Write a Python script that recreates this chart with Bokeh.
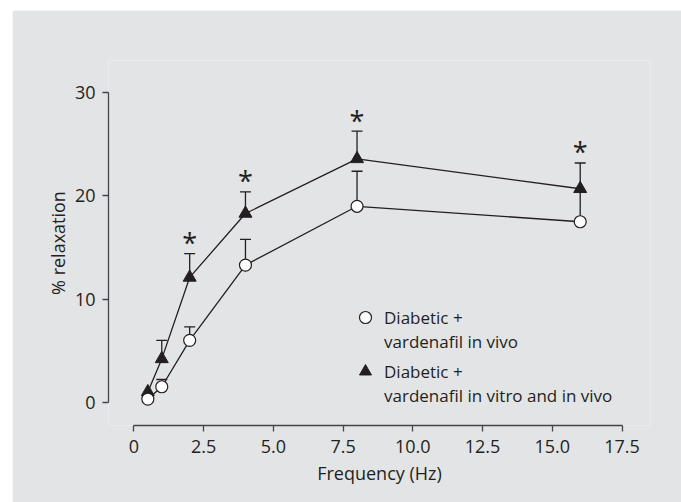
from bokeh.plotting import figure
from bokeh.models import (ColumnDataSource, Whisker, TeeHead, FixedTicker, Legend,
                          LegendItem, Range1d)
from bokeh.core.properties import value
from bokeh.embed import file_html
from bokeh.resources import INLINE

# ---- data ----
freq = [0.5, 1, 2, 4, 8, 16]
invivo_mean = [0.3, 1.5, 6.0, 13.3, 19.0, 17.5]
invivo_upper = [None, 2.2, 7.3, 15.8, 22.4, 20.5]
both_mean = [1.0, 4.2, 12.1, 18.3, 23.6, 20.7]
both_upper = [None, 6.0, 14.4, 20.4, 26.3, 23.2]
significant = [False, False, True, True, True, True]

x_ticks = [0, 2.5, 5, 7.5, 10, 12.5, 15, 17.5]
x_tick_labels = ["0", "2.5", "5.0", "7.5", "10.0", "12.5", "15.0", "17.5"]
y_ticks = [0, 10, 20, 30]

group_label = "Diabetic +"
label_invivo = "vardenafil in vivo"
label_both = "vardenafil in vitro and in vivo"

# ---- styling ----
BG = "#e3e4e6"
INK = "#231f20"
AXIS = "#444444"
FONT = "Open Sans"
FS = "18px"
LEG_FS = "17px"

p = figure(width=669, height=492, output_backend="svg", toolbar_location=None,
           x_range=Range1d(-0.91, 18.52), y_range=Range1d(-2.26, 33.14),
           min_border_left=96, min_border_right=31, min_border_top=50,
           min_border_bottom=77)
p.margin = (10, 0, 0, 12)
p.background_fill_color = BG
p.border_fill_color = BG
p.outline_line_color = None
p.grid.visible = False

for ax in (p.xaxis[0], p.yaxis[0]):
    ax.axis_line_color = AXIS
    ax.axis_line_width = 1.3
    ax.major_tick_line_color = AXIS
    ax.major_tick_line_width = 1.3
    ax.major_tick_in = 0
    ax.major_tick_out = 6
    ax.minor_tick_line_color = None
    ax.major_label_text_font = FONT
    ax.major_label_text_font_size = FS
    ax.major_label_text_color = INK
    ax.axis_label_text_font = FONT
    ax.axis_label_text_font_size = FS
    ax.axis_label_text_font_style = "normal"
    ax.axis_label_text_color = INK

p.xaxis[0].bounds = (0, 17.5)
p.xaxis[0].ticker = FixedTicker(ticks=x_ticks)
p.xaxis[0].major_label_overrides = {t: l for t, l in zip(x_ticks, x_tick_labels)}
p.xaxis[0].major_label_standoff = 8
p.xaxis[0].axis_label = "Frequency (Hz)"
p.xaxis[0].axis_label_standoff = 5

p.yaxis[0].bounds = (0, 30)
p.yaxis[0].ticker = FixedTicker(ticks=y_ticks)
p.yaxis[0].major_label_standoff = 7
p.yaxis[0].axis_label = "% relaxation"
p.yaxis[0].axis_label_standoff = 2

# ---- error bars (upper only) ----
def whisker_source(means, uppers):
    xs, lo, hi = [], [], []
    for f, m, u in zip(freq, means, uppers):
        if u is not None:
            xs.append(f); lo.append(m); hi.append(u)
    return ColumnDataSource(dict(x=xs, lower=lo, upper=hi))

for means, uppers in ((both_mean, both_upper), (invivo_mean, invivo_upper)):
    w = Whisker(base="x", lower="lower", upper="upper",
                source=whisker_source(means, uppers),
                line_color=INK, line_width=1.3, lower_head=None,
                upper_head=TeeHead(size=11, line_color=INK, line_width=1.3),
                level="underlay")
    p.add_layout(w)

# ---- series ----
src_both = ColumnDataSource(dict(x=freq, y=both_mean))
src_vivo = ColumnDataSource(dict(x=freq, y=invivo_mean))

p.line("x", "y", source=src_both, line_color=INK, line_width=1.3)
r_both = p.scatter("x", "y", source=src_both, marker="triangle", size=13,
                   fill_color=INK, line_color=INK)
p.line("x", "y", source=src_vivo, line_color=INK, line_width=1.3)
r_vivo = p.scatter("x", "y", source=src_vivo, marker="circle", size=12,
                   fill_color="white", line_color=INK, line_width=1.2)

# invisible renderer used for the second legend line of each entry
r_blank = p.scatter(x=[], y=[], size=0, fill_alpha=0, line_alpha=0)

# ---- significance asterisks ----
sx = [f for f, s in zip(freq, significant) if s]
sy = [u for u, s in zip(both_upper, significant) if s]
p.text(x=sx, y=sy, text=["*"] * len(sx), text_font=value(FONT),
       text_font_size="27px", text_color=INK, text_align="center",
       text_baseline="alphabetic", y_offset=-11)

# ---- legend (two stacked legends: marker + first line, then second line) ----
common = dict(orientation="vertical", border_line_color=None,
              background_fill_alpha=0, label_text_font=FONT,
              label_text_font_size=LEG_FS, label_text_color=INK,
              label_standoff=4, padding=0, margin=0, glyph_width=30)
legend_a = Legend(items=[LegendItem(label=group_label, renderers=[r_vivo]),
                         LegendItem(label=group_label, renderers=[r_both])],
                  location=(242, 39), glyph_height=30, label_height=30,
                  spacing=24, **common)
legend_b = Legend(items=[LegendItem(label=label_invivo, renderers=[r_blank]),
                         LegendItem(label=label_both, renderers=[r_blank])],
                  location=(242, 17), glyph_height=26, label_height=26,
                  spacing=28, **common)
p.add_layout(legend_a)
p.add_layout(legend_b)

open("out.html", "w").write(file_html(p, INLINE))
